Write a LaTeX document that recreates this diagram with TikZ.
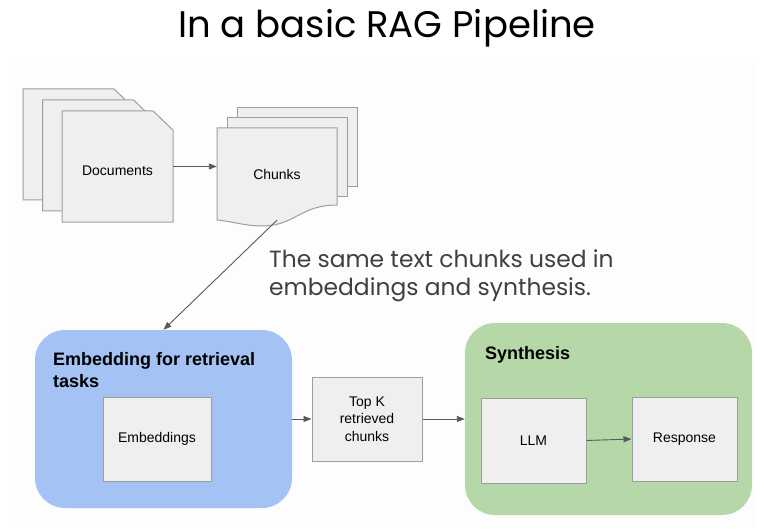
\documentclass[tikz,border=0pt]{standalone}
\usepackage{fontspec}
\setmainfont{Liberation Sans}
\newfontfamily\poppins{Poppins}
\usepackage{tikz}
\usetikzlibrary{arrows.meta}
\definecolor{pagegray}{HTML}{EFEFEF}
\definecolor{edgegray}{HTML}{9E9E9E}
\definecolor{arrowgray}{HTML}{595959}
\definecolor{embedblue}{HTML}{A4C2F4}
\definecolor{synthgreen}{HTML}{B6D7A8}
\definecolor{backwhite}{HTML}{FDFDFD}
\definecolor{notegray}{HTML}{404040}
\tikzstyle{page}=[fill=pagegray, draw=edgegray, line width=1pt]
\tikzstyle{box}=[page, rectangle, inner sep=0pt, font=\fontsize{14}{17.5}\selectfont, align=center]
\tikzstyle{label}=[inner sep=0pt, font=\fontsize{14}{17.5}\selectfont]
\tikzstyle{groupbox}=[rectangle, rounded corners=30pt, inner sep=0pt]
\tikzstyle{grouptitle}=[anchor=base west, inner sep=0pt, align=left, font=\bfseries\fontsize{18}{22}\selectfont]
\tikzstyle{flowarrow}=[draw=arrowgray, line width=0.9pt, -{Triangle[length=8pt,width=6pt]}]

\begin{document}
\begin{tikzpicture}[x=1pt, y=-1pt]
    \useasboundingbox (0,0) rectangle (767,529);
    \fill[white] (0,0) rectangle (767,529);
    \fill[backwhite] (15,62) rectangle (755,527);

    %title
    \node[inner sep=0pt, anchor=base, font=\poppins\fontsize{37}{44}\selectfont] (title) at (387,38) {In a basic RAG Pipeline};

    %documents
    \foreach \x/\y in {23/89, 42.5/100, 62/111} {
    \draw[page] (\x,\y) -- ++(91,0) -- ++(20,19) -- ++(0,92) -- ++(-111,0) -- cycle;
    }
    \node[label, minimum width=111, minimum height=111] (docs) at (117.5,166.5) {\raisebox{-9.5pt}[0pt][0pt]{Documents}};

    %chunks
    \foreach \x/\y in {237/108, 227/118} {
    \draw[page] (\x,\y) rectangle ++(120,79);
    }
    \draw[page] (217,128) -- (337,128) -- (337,205) .. controls (300,205) and (295,226) .. (262,226) .. controls (245,226) and (230,221) .. (217,220) -- cycle;
    \node[label, minimum width=120, minimum height=92] (chunks) at (277,174) {Chunks};

    \node[anchor=base west, inner sep=0pt, align=left, text=notegray, font=\poppins\fontsize{23.4}{28}\selectfont] (note) at (269,295) {The same text chunks used in\\embeddings and synthesis.};

    %embedding
    \node[groupbox, fill=embedblue, minimum width=257, minimum height=178] (embed) at (163.5,419) {};
    \node[grouptitle] (embedtitle) at (53,387) {Embedding for retrieval\\tasks};
    \node[box, minimum width=108, minimum height=84] (embeddings) at (157,439) {Embeddings};

    \node[box, minimum width=110, minimum height=84] (topk) at (367,419) {Top K\\retrieved\\chunks};

    %synthesis
    \node[groupbox, fill=synthgreen, minimum width=287, minimum height=192] (synth) at (608.5,419) {};
    \node[grouptitle] (synthtitle) at (485,359) {Synthesis};
    \node[box, minimum width=105, minimum height=85] (llm) at (533.5,440.5) {LLM};
    \node[box, minimum width=105, minimum height=84] (response) at (684.5,439) {Response};

    %arrows
    \draw[flowarrow] (docs.east) -- (docs.east -| chunks.west);
    \draw[flowarrow] (chunks.south) -- (embed.north);
    \draw[flowarrow] (embed.east) -- (topk.west);
    \draw[flowarrow] (topk.east) -- (synth.west);
    \draw[flowarrow] (llm.east) -- (response.west);

\end{tikzpicture}
\end{document}
